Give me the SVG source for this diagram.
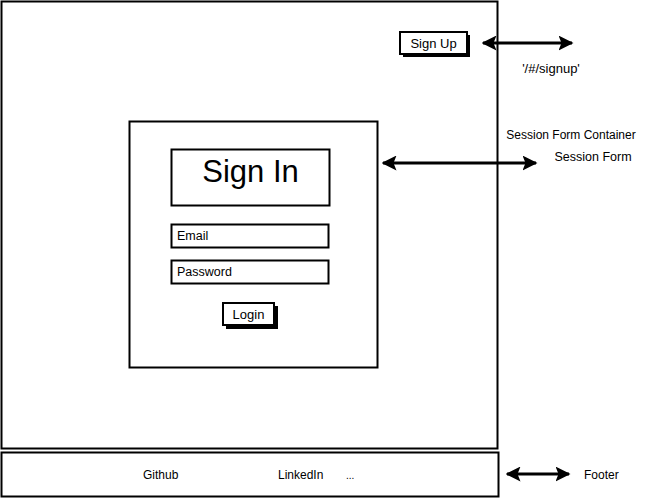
<svg xmlns="http://www.w3.org/2000/svg" width="651" height="500" viewBox="0 0 651 500">
<defs>
<marker id="ah" viewBox="0 0 10 10" refX="9" refY="5" markerWidth="5" markerHeight="5" orient="auto-start-reverse" markerUnits="strokeWidth">
<path d="M0,0 L10,5 L0,10 L2,5 Z" fill="#000"/>
</marker>
</defs>
<style>
.box{fill:#fff;stroke:#000;stroke-width:2}
.sh{fill:none;stroke:#000;stroke-width:3}
.t{font-family:"Liberation Sans",Arial,sans-serif;fill:#000}
.c{stroke:#000;stroke-width:3;fill:none}
</style>
<rect width="651" height="500" fill="#fff"/>
<g id="page">
<rect class="box" x="1.5" y="1.5" width="496" height="447"/>
</g>
<g id="footer">
<rect class="box" x="1.5" y="452.5" width="497" height="44"/>
<text class="t" x="143" y="479" font-size="12">Github</text>
<text class="t" x="278" y="479" font-size="12">LinkedIn</text>
<text class="t" x="346" y="479" font-size="10">...</text>
</g>
<g id="signup-btn">
<path class="sh" d="M403,55.5 H468.5 V35"/>
<rect class="box" x="400" y="32" width="67" height="22"/>
<text class="t" x="433.5" y="48" font-size="13" text-anchor="middle">Sign Up</text>
</g>
<g id="session-form">
<rect class="box" x="129.5" y="121.5" width="248" height="246"/>
</g>
<g id="title">
<rect class="box" x="171.5" y="149.5" width="158" height="56"/>
<text class="t" x="250.5" y="182" font-size="31" text-anchor="middle">Sign In</text>
</g>
<g id="email">
<rect class="box" x="171.5" y="224.5" width="157" height="23"/>
<text class="t" x="177" y="240" font-size="12.5">Email</text>
</g>
<g id="password">
<rect class="box" x="171.5" y="260.5" width="157" height="23"/>
<text class="t" x="177" y="276" font-size="12.5">Password</text>
</g>
<g id="login-btn">
<path class="sh" d="M226,327.5 H276.5 V306"/>
<rect class="box" x="223" y="303" width="51" height="22"/>
<text class="t" x="248.5" y="319" font-size="13" text-anchor="middle">Login</text>
</g>
<g id="connectors">
<line class="c" x1="483" y1="43" x2="572" y2="43" marker-start="url(#ah)" marker-end="url(#ah)"/>
<line class="c" x1="383" y1="163" x2="536" y2="163" marker-start="url(#ah)" marker-end="url(#ah)"/>
<line class="c" x1="507" y1="474" x2="569" y2="474" marker-start="url(#ah)" marker-end="url(#ah)"/>
</g>
<g id="labels">
<text class="t" x="551" y="73" font-size="13" text-anchor="middle">'/#/signup'</text>
<text class="t" x="571" y="139" font-size="12" text-anchor="middle">Session Form Container</text>
<text class="t" x="593" y="161" font-size="12.5" text-anchor="middle">Session Form</text>
<text class="t" x="584" y="479" font-size="12">Footer</text>
</g>
</svg>
